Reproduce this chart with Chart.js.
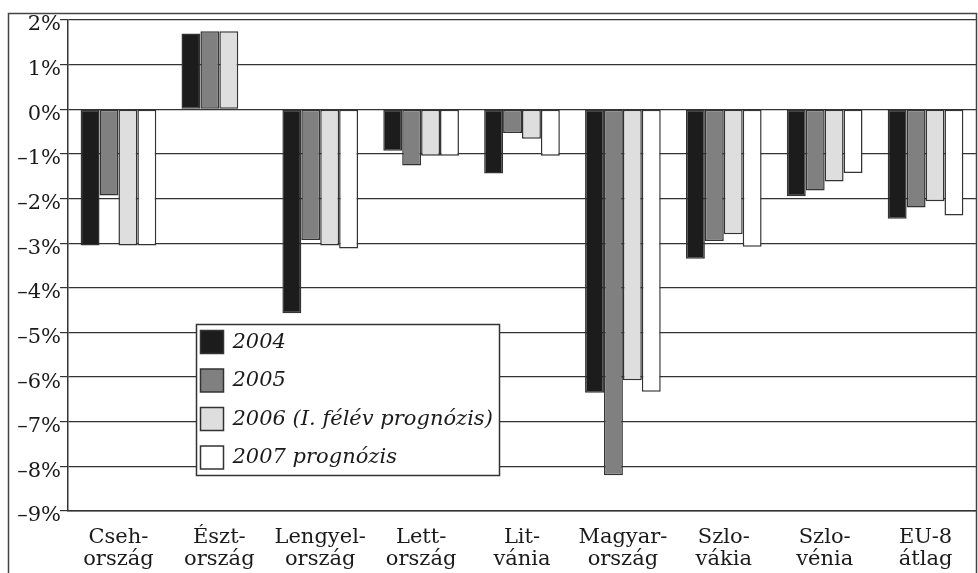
<!DOCTYPE html>
<html>
<head>
<meta charset="utf-8">
<script src="https://cdn.jsdelivr.net/npm/chart.js@4/dist/chart.umd.min.js"></script>
<style>
  html, body { margin: 0; padding: 0; background: #fff; }
  #wrap { width: 978px; height: 573px; }
</style>
</head>
<body>
<div id="wrap"><canvas id="myChart" width="978" height="573"></canvas></div>
<script>
// Data
const countries = [
    ['Cseh-', 'ország'], ['Észt-', 'ország'], ['Lengyel-', 'ország'],
    ['Lett-', 'ország'], ['Lit-', 'vánia'], ['Magyar-', 'ország'],
    ['Szlo-', 'vákia'], ['Szlo-', 'vénia'], ['EU-8', 'átlag']
];
const seriesNames = ['2004', '2005', '2006 (I. félév prognózis)', '2007 prognózis'];
const y2004 = [-3.05, 1.70, -4.57, -0.93, -1.44, -6.35, -3.35, -1.95, -2.45];
const y2005 = [-1.93, 1.75, -2.93, -1.26, -0.53, -8.20, -2.95, -1.82, -2.20];
const y2006 = [-3.05, 1.75, -3.05, -1.04, -0.66, -6.07, -2.80, -1.62, -2.06];
const y2007 = [-3.05, null, -3.12, -1.04, -1.04, -6.33, -3.08, -1.43, -2.38];
const fills = ['#1c1c1c', '#808080', '#dedede', '#ffffff'];

const serif = "'DejaVu Serif', serif";
const lineCol = '#333333';

// outer frame around the whole figure
const framePlugin = {
    id: 'frame',
    afterDraw(chart) {
        const c = chart.ctx;
        c.save();
        c.strokeStyle = '#444';
        c.lineWidth = 1.5;
        c.strokeRect(8.5, 13.5, 968, 620);
        c.restore();
    }
};

// legend box drawn inside the plot
const boxLegend = {
    id: 'boxLegend',
    afterDatasetsDraw(chart, args, opts) {
        const c = chart.ctx;
        c.save();
        c.fillStyle = '#fff';
        c.strokeStyle = lineCol;
        c.lineWidth = 1.5;
        c.fillRect(opts.x, opts.y, opts.w, opts.h);
        c.strokeRect(opts.x, opts.y, opts.w, opts.h);
        c.font = 'italic 21px ' + serif;
        c.textBaseline = 'middle';
        chart.data.datasets.forEach((ds, i) => {
            const top = opts.y + 6 + i * 38.5;
            c.fillStyle = ds.backgroundColor;
            c.fillRect(opts.x + 4, top, 23, 23);
            c.strokeRect(opts.x + 4, top, 23, 23);
            c.fillStyle = '#1a1a1a';
            c.fillText(ds.label, opts.x + 36, top + 12);
        });
        c.restore();
    }
};

const datasets = [y2004, y2005, y2006, y2007].map((vals, i) => ({
    label: seriesNames[i],
    data: vals,
    backgroundColor: fills[i],
    borderColor: lineCol,
    borderWidth: 1.5,
    borderSkipped: false,
    categoryPercentage: 0.75,
    barPercentage: 1.0
}));

const ctx = document.getElementById('myChart').getContext('2d');
new Chart(ctx, {
    type: 'bar',
    data: { labels: countries, datasets: datasets },
    plugins: [framePlugin, boxLegend],
    options: {
        responsive: false,
        animation: false,
        layout: { padding: { left: 8, top: 20, right: 2, bottom: 0 } },
        scales: {
            x: {
                grid: { display: false },
                border: { display: true, color: lineCol, width: 1.5 },
                ticks: {
                    color: '#1a1a1a',
                    font: { family: serif, size: 21, lineHeight: 1.08 },
                    padding: 7,
                    maxRotation: 0,
                    autoSkip: false
                },
                afterFit(scale) { scale.height = 62; }
            },
            y: {
                min: -9,
                max: 2,
                grid: { color: lineCol, lineWidth: 1.2, tickLength: 8 },
                border: { display: true, color: lineCol, width: 1.5 },
                ticks: {
                    stepSize: 1,
                    color: '#1a1a1a',
                    font: { family: serif, size: 21 },
                    padding: -1,
                    labelOffset: 5,
                    callback: v => (v < 0 ? '\u2013' + Math.abs(v) : v) + '%'
                },
                afterFit(scale) { scale.width = 60; }
            }
        },
        plugins: {
            legend: { display: false },
            tooltip: { enabled: false },
            boxLegend: { x: 196.5, y: 324.5, w: 303, h: 151 }
        }
    }
});
</script>
</body>
</html>
